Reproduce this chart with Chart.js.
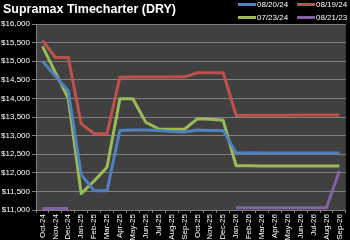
<!DOCTYPE html>
<html>
<head>
<meta charset="utf-8">
<script src="https://cdn.jsdelivr.net/npm/chart.js@4/dist/chart.umd.min.js"></script>
<style>
  body { margin: 0; background: #000; }
  #wrap { position: relative; width: 350px; height: 240px; }
  #title { position: absolute; left: 3px; top: 2px; color: #fff; font: bold 12.5px "Liberation Sans", Arial, sans-serif; white-space: nowrap; }
  #legend { position: absolute; left: 238px; top: 0; width: 112px; font: 8px "Liberation Sans", Arial, sans-serif; color: #fff; }
  .item { position: absolute; height: 10px; line-height: 10px; white-space: nowrap; }
  .swatch { display: inline-block; width: 18px; height: 3px; vertical-align: middle; margin-right: 1px; }
</style>
</head>
<body>
<div id="wrap">
  <canvas id="curve" width="350" height="240"></canvas>
  <div id="title">Supramax Timecharter (DRY)</div>
  <div id="legend"></div>
</div>
<script>
// --- 資料 ---
const months = ['Oct-24','Nov-24','Dec-24','Jan-25','Feb-25','Mar-25','Apr-25','May-25','Jun-25','Jul-25','Aug-25','Sep-25',
                'Oct-25','Nov-25','Dec-25','Jan-26','Feb-26','Mar-26','Apr-26','May-26','Jun-26','Jul-26','Aug-26','Sep-26'];
const seriesNames = ['08/20/24', '08/19/24', '07/23/24', '08/21/23'];
const curve0820 = [15000, 14600, 14200, 11950, 11520, 11520, 13140, 13150, 13150, 13140, 13110, 13100,
                   13150, 13140, 13140, 12530, 12540, 12530, 12530, 12530, 12530, 12530, 12530, 12530];
const curve0819 = [15560, 15100, 15100, 13320, 13050, 13050, 14570, 14575, 14575, 14575, 14575, 14580,
                   14690, 14690, 14690, 13540, 13545, 13545, 13550, 13550, 13555, 13555, 13555, 13555];
const curve0723 = [15400, 14700, 14000, 11440, 11780, 12150, 13990, 13990, 13360, 13180, 13170, 13170,
                   13450, 13440, 13410, 12190, 12190, 12185, 12180, 12180, 12180, 12180, 12180, 12180];
const curve0821 = [11040, 11040, 11040, null, null, null, null, null, null, null, null, null,
                   null, null, null, 11060, 11060, 11060, 11060, 11060, 11060, 11060, 11060, 12050];
const yTicks = { min: 11000, max: 16000, step: 500 };

const colors = ['#4F81BD', '#C0504D', '#9BBB59', '#8064A2'];
const allCurves = [curve0820, curve0819, curve0723, curve0821];

// 圖區底色
const plotBg = {
    id: 'plotBg',
    beforeDraw(chart) {
        const { ctx, chartArea: a } = chart;
        ctx.save();
        ctx.fillStyle = '#404040';
        ctx.fillRect(a.left, a.top, a.right - a.left, a.bottom - a.top);
        ctx.restore();
    }
};

const ctx = document.getElementById('curve').getContext('2d');
window.curveChart = new Chart(ctx, {
    type: 'line',
    data: {
        labels: months,
        datasets: allCurves.map((d, i) => ({
            label: seriesNames[i],
            data: d,
            borderColor: colors[i],
            backgroundColor: colors[i],
            borderWidth: 3,
            pointRadius: 0,
            tension: 0,
            fill: false,
            borderJoinStyle: 'round'
        }))
    },
    options: {
        responsive: false,
        animation: false,
        layout: { padding: { top: 24, right: 1, left: 0, bottom: 0 } },
        plugins: { legend: { display: false }, title: { display: false }, tooltip: { enabled: false } },
        scales: {
            x: {
                offset: true,
                grid: { offset: true, drawOnChartArea: false, drawTicks: true, tickLength: 3, color: '#808080' },
                border: { color: '#808080' },
                ticks: { color: '#fff', font: { size: 8, family: 'Liberation Sans' }, minRotation: 90, maxRotation: 90, padding: 1, autoSkip: false },
                afterFit(axis) { axis.height = 30; }
            },
            y: {
                min: yTicks.min, max: yTicks.max,
                grid: { color: '#808080', tickLength: 4 },
                border: { color: '#808080' },
                ticks: {
                    stepSize: yTicks.step, color: '#fff', padding: 2,
                    font: { size: 8, family: 'Liberation Sans' },
                    callback: v => '$' + v.toLocaleString('en-US')
                },
                afterFit(axis) { axis.width = 36; }
            }
        }
    },
    plugins: [plotBg]
});

// 自訂圖例 (兩欄兩列，靠右)
const legend = document.getElementById('legend');
seriesNames.forEach((name, i) => {
    const el = document.createElement('div');
    el.className = 'item';
    el.style.left = (i % 2 ? 59 : 0) + 'px';
    el.style.top = (i < 2 ? 0 : 13) + 'px';
    el.innerHTML = `<span class="swatch" style="background:${colors[i]}"></span>${name}`;
    legend.appendChild(el);
});
</script>
</body>
</html>
